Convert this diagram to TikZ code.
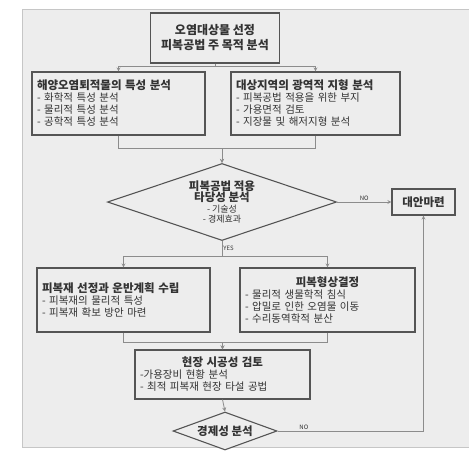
\documentclass[tikz,border=0pt]{standalone}
\usepackage{fontspec}
\setmainfont{Noto Sans CJK KR}
\usepackage{tikz}
\usetikzlibrary{shapes}
\usetikzlibrary{arrows}
\definecolor{panelgray}{HTML}{EDEDED}
\definecolor{boxline}{HTML}{555555}
\definecolor{wiregray}{HTML}{8C8C8C}
\definecolor{inkgray}{HTML}{333333}

\tikzset{
  stagebox/.style={draw=boxline, line width=1.1pt, fill=panelgray, inner ysep=0pt, inner xsep=5pt, text=inkgray},
  choice/.style={diamond, draw=boxline, line width=1.1pt, fill=panelgray, inner sep=0pt},
  wire/.style={draw=wiregray, line width=0.8pt, ->, >=stealth},
  items/.style={font=\fontsize{10.5}{12}\selectfont, align=left},
  tag/.style={font=\fontsize{6}{7}\selectfont, text=inkgray, inner sep=1pt}
}
\newcommand{\headline}[1]{{\bfseries\fontsize{11.5}{13}\selectfont #1}}
\newcommand{\midline}[1]{\hspace*{\fill}\headline{#1}\hspace*{\fill}\null}

\begin{document}
\begin{tikzpicture}[x=1pt, y=-1pt]

        % Panel
        \useasboundingbox (0,0) rectangle (469,459);
        \filldraw[fill=panelgray, draw=gray!45] (22,9) rectangle (469,447);

        % Target selection
        \node[stagebox, minimum width=129pt, minimum height=50pt, align=center,
              font=\bfseries\fontsize{12}{15}\selectfont] (select) at (215,38)
              {오염대상물 선정\\피복공법 주 목적 분석};

        % Analyses
        \node[stagebox, items, text width=163pt, minimum height=63pt] (sediment) at (118.5,103.5)
              {\headline{해양오염퇴적물의 특성 분석}\\- 화학적 특성 분석\\- 물리적 특성 분석\\- 공학적 특성 분석};
        \node[stagebox, items, text width=159pt, minimum height=63pt] (terrain) at (315.5,103.5)
              {\headline{대상지역의 광역적 지형 분석}\\- 피복공법 적용을 위한 부지\\- 가용면적 검토\\- 지장물 및 해저지형 분석};

        % Feasibility
        \node[choice, minimum width=229pt, minimum height=77pt] (feasible) at (222,202) {};
        \node[align=center, text=inkgray] (feasibletext) at (feasible)
              {\headline{피복공법 적용}\\[-1pt]\headline{타당성 분석}\\[-1pt]
               {\fontsize{9}{10}\selectfont - 기술성}\\[-2pt]{\fontsize{9}{10}\selectfont - 경제효과}};
        \node[stagebox, minimum width=63pt, minimum height=26pt] (alternative) at (423.5,202)
              {\headline{대안마련}};

        % Design
        \node[stagebox, items, text width=163pt, minimum height=64pt] (cover) at (123.5,300)
              {\headline{피복재 선정과 운반계획 수립}\\- 피복재의 물리적 특성\\- 피복재 확보 방안 마련};
        \node[stagebox, items, text width=165pt, minimum height=64pt] (shape) at (327.5,300)
              {\midline{피복형상결정}\\- 물리적 생물학적 침식\\- 압밀로 인한 오염물 이동\\- 수리동역학적 분산};

        % Site review
        \node[stagebox, items, text width=165pt, minimum height=49pt] (site) at (222.5,374.5)
              {\midline{현장 시공성 검토}\\-가용장비 현황 분석\\- 최적 피복재 현장 타설 공법};

        % Economy
        \node[choice, minimum width=104pt, minimum height=38pt] (economy) at (225,431) {};
        \node[text=inkgray] (economytext) at (economy) {\headline{경제성 분석}};

        % connectors
        \draw[wire] (select.south) -- ++(0,3) -| (sediment.north);
        \draw[wire] (select.south) -- ++(0,3) -| (terrain.north);
        \draw[wire] (sediment.south) -- ++(0,13) -| (feasible.north);
        \draw[wire] (terrain.south) -- ++(0,13) -| (feasible.north);
        \draw[wire] (feasible.east) -- node[tag, above] {NO} (alternative.west);
        \draw[wire] (feasible.south) -- node[tag, right] {YES} ++(0,15) -| (cover.north);
        \draw[wire] (feasible.south) -- ++(0,15) -| (shape.north);
        \draw[wire] (cover.south) -- ++(0,10) -| (site.north);
        \draw[wire] (shape.south) -- ++(0,10) -| (site.north);
        \draw[wire] (site.south) -- (economy.north);
        \draw[wire] (economy.east) -| node[tag, above, pos=0.09] {NO} (alternative.south);

\end{tikzpicture}
\end{document}
